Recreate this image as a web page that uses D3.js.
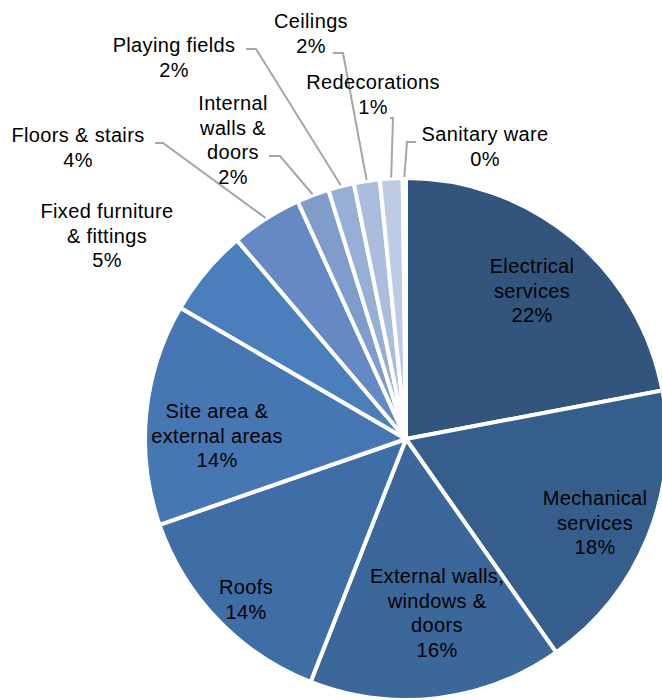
<!DOCTYPE html>
<html>
<head>
<meta charset="utf-8">
<script src="https://cdn.jsdelivr.net/npm/d3@7"></script>
<style>
  body { margin: 0; background: #fff; }
  svg { display: block; }
</style>
</head>
<body>
<script>
// categories in clockwise order from 12 o'clock
const categories = [
  "Electrical services", "Mechanical services", "External walls, windows & doors",
  "Roofs", "Site area & external areas", "Fixed furniture & fittings",
  "Floors & stairs", "Internal walls & doors", "Playing fields",
  "Ceilings", "Redecorations", "Sanitary ware"
];
const shares = [22.0, 18.2, 15.7, 13.7, 13.7, 5.4, 4.4, 2.0, 1.6, 1.6, 1.4, 0.2];
// how each label is broken into lines
const labelLines = [
  ["Electrical", "services"], ["Mechanical", "services"], ["External walls,", "windows &", "doors"],
  ["Roofs"], ["Site area &", "external areas"], ["Fixed furniture", "& fittings"],
  ["Floors & stairs"], ["Internal", "walls &", "doors"], ["Playing fields"],
  ["Ceilings"], ["Redecorations"], ["Sanitary ware"]
];
const colors = [
  "#32557e", "#365e8d", "#3b679b", "#3f6ea6", "#4677b2", "#4b7fbb",
  "#6589c3", "#7f9ccb", "#97aed5", "#abbddd", "#bdcbe5", "#d0dbed"
];

let width = 662, height = 700;
let cx = 406, cy = 439, radius = 261;

// label layout: text centre x, first baseline y, optional leader elbow (label end, corner)
let layout = [
  { x: 532, y: 273 },
  { x: 595, y: 505 },
  { x: 437, y: 583 },
  { x: 246, y: 594 },
  { x: 217, y: 418 },
  { x: 107, y: 218 },
  { x: 78,  y: 142, elbow: [[155, 143], [163, 143]] },
  { x: 233, y: 110, elbow: [[269, 156], [280, 156]] },
  { x: 174, y: 52,  elbow: [[246, 49], [256, 49]] },
  { x: 311, y: 28,  elbow: [[333, 53], [343, 53]] },
  { x: 373, y: 89,  elbow: [[390, 118], [393, 118]] },
  { x: 485, y: 141, elbow: [[416, 142], [407, 142]] }
];

let data = categories.map((c, i) => ({ name: c, value: shares[i], lines: labelLines[i], color: colors[i], pos: layout[i] }));
let total = d3.sum(shares);
let pct = d3.format(".0%");

let svg = d3.select("body").append("svg")
  .attr("width", width)
  .attr("height", height)
  .attr("viewBox", [0, 0, width, height]);

let pie = d3.pie().value(d => d.value).sort(null);
let arc = d3.arc().innerRadius(0).outerRadius(radius);
let arcs = pie(data);

let g = svg.append("g").attr("transform", `translate(${cx},${cy})`);

g.selectAll("path")
  .data(arcs)
  .join("path")
  .attr("d", arc)
  .attr("fill", d => d.data.color)
  .attr("stroke", "#fff")
  .attr("stroke-width", 4)
  .attr("stroke-linejoin", "round");

// leader lines for the small slices
let edgeArc = d3.arc().innerRadius(radius + 1).outerRadius(radius + 1);
for (let a of arcs) {
  let p = a.data.pos;
  if (!p.elbow) continue;
  let [ex, ey] = edgeArc.centroid(a);
  let pts = [[ex + cx, ey + cy], p.elbow[1], p.elbow[0]];
  svg.append("polyline")
    .attr("points", pts.map(q => q.join(",")).join(" "))
    .attr("fill", "none")
    .attr("stroke", "#a6a6a6")
    .attr("stroke-width", 2);
}

// labels
for (let a of arcs) {
  let d = a.data;
  let lines = d.lines.concat([pct(d.value / total)]);
  let t = svg.append("text")
    .attr("x", d.pos.x)
    .attr("y", d.pos.y)
    .attr("text-anchor", "middle")
    .style("font-family", "Arial, 'Liberation Sans', sans-serif")
    .style("font-size", "20px")
    .style("letter-spacing", "0.35px")
    .style("fill", "#000");
  lines.forEach((l, i) => {
    t.append("tspan")
      .attr("x", d.pos.x)
      .attr("dy", i == 0 ? 0 : 24.6)
      .text(l);
  });
}
</script>
</body>
</html>
